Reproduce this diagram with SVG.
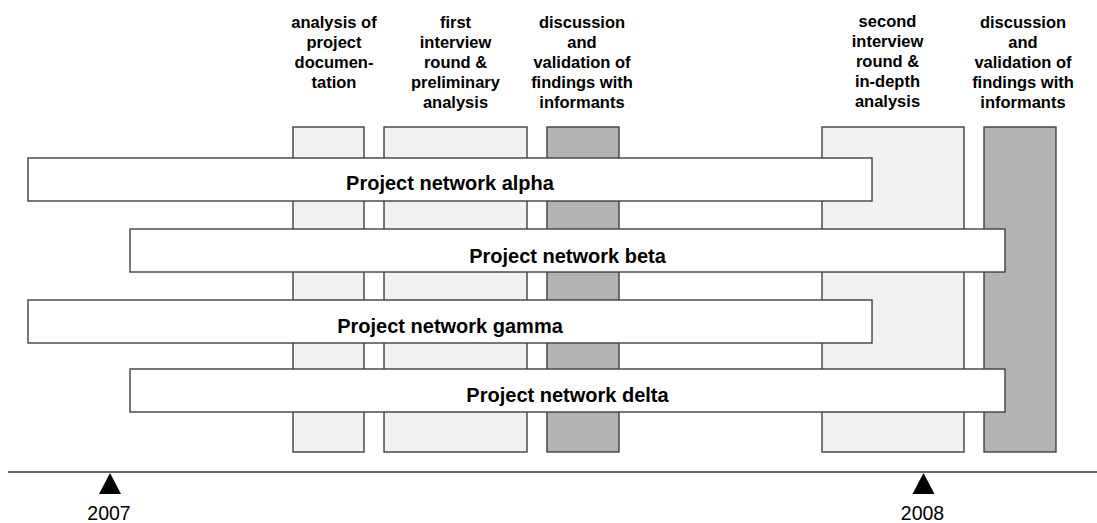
<svg xmlns="http://www.w3.org/2000/svg" width="1097" height="523" viewBox="0 0 1097 523">
  <style>
    .phase-light { fill: #f2f2f2; stroke: #404040; stroke-width: 1.4; }
    .phase-dark { fill: #b3b3b3; stroke: #404040; stroke-width: 1.4; }
    .bar { fill: #ffffff; stroke: #404040; stroke-width: 1.4; }
    .head { font-family: "Liberation Sans", Arial, sans-serif; font-weight: bold; font-size: 16.5px; fill: #000; text-anchor: middle; }
    .bar-label { font-family: "Liberation Sans", Arial, sans-serif; font-weight: bold; font-size: 20px; fill: #000; text-anchor: middle; }
    .year { font-family: "Liberation Sans", Arial, sans-serif; font-size: 19.5px; fill: #000; text-anchor: middle; }
    .axis { stroke: #333333; stroke-width: 1.4; fill: none; }
    .tick { fill: #000; }
  </style>
  <rect width="1097" height="523" fill="#ffffff"/>

  <!-- research phases (columns behind the network bars) -->
  <g id="phase-documentation">
    <rect class="phase-light" x="293" y="127" width="71" height="325"/>
    <text class="head" x="334" y="28">analysis of</text>
    <text class="head" x="334" y="48">project</text>
    <text class="head" x="334" y="68">documen-</text>
    <text class="head" x="334" y="88">tation</text>
  </g>
  <g id="phase-first-interviews">
    <rect class="phase-light" x="384" y="127" width="143" height="325"/>
    <text class="head" x="455.5" y="28">first</text>
    <text class="head" x="455.5" y="48">interview</text>
    <text class="head" x="455.5" y="68">round &amp;</text>
    <text class="head" x="455.5" y="88">preliminary</text>
    <text class="head" x="455.5" y="108">analysis</text>
  </g>
  <g id="phase-validation-1">
    <rect class="phase-dark" x="547" y="127" width="72" height="325"/>
    <text class="head" x="582" y="28">discussion</text>
    <text class="head" x="582" y="48">and</text>
    <text class="head" x="582" y="68">validation of</text>
    <text class="head" x="582" y="88">findings with</text>
    <text class="head" x="582" y="108">informants</text>
  </g>
  <g id="phase-second-interviews">
    <rect class="phase-light" x="822" y="127" width="142" height="325"/>
    <text class="head" x="887.5" y="27">second</text>
    <text class="head" x="887.5" y="47">interview</text>
    <text class="head" x="887.5" y="67">round &amp;</text>
    <text class="head" x="887.5" y="87">in-depth</text>
    <text class="head" x="887.5" y="107">analysis</text>
  </g>
  <g id="phase-validation-2">
    <rect class="phase-dark" x="984" y="127" width="72" height="325"/>
    <text class="head" x="1023" y="28">discussion</text>
    <text class="head" x="1023" y="48">and</text>
    <text class="head" x="1023" y="68">validation of</text>
    <text class="head" x="1023" y="88">findings with</text>
    <text class="head" x="1023" y="108">informants</text>
  </g>

  <!-- project network bars -->
  <g id="network-alpha">
    <rect class="bar" x="28" y="158" width="844" height="43"/>
    <text class="bar-label" x="450" y="189.5">Project network alpha</text>
  </g>
  <g id="network-beta">
    <rect class="bar" x="130" y="229" width="875" height="43"/>
    <text class="bar-label" x="567.5" y="263">Project network beta</text>
  </g>
  <g id="network-gamma">
    <rect class="bar" x="28" y="300" width="844" height="43"/>
    <text class="bar-label" x="450" y="333">Project network gamma</text>
  </g>
  <g id="network-delta">
    <rect class="bar" x="130" y="369" width="875" height="43"/>
    <text class="bar-label" x="567.5" y="402">Project network delta</text>
  </g>

  <!-- time axis with year markers -->
  <g id="connectors">
    <line class="axis" x1="8" y1="472" x2="1097" y2="472"/>
  </g>
  <g id="year-2007">
    <polygon class="tick" points="110,473 99,494 121,494"/>
    <text class="year" x="109" y="520">2007</text>
  </g>
  <g id="year-2008">
    <polygon class="tick" points="923.5,473 912.5,494 934.5,494"/>
    <text class="year" x="922.5" y="520">2008</text>
  </g>
</svg>
